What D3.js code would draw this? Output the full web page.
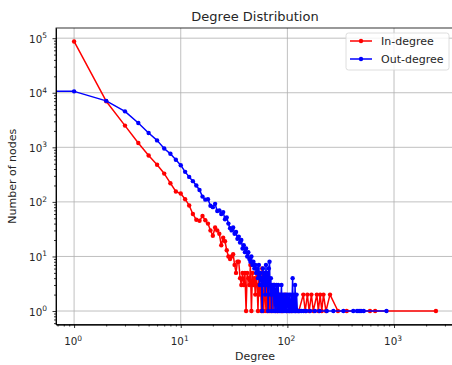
<!DOCTYPE html>
<html>
<head>
<meta charset="utf-8">
<script src="https://cdn.jsdelivr.net/npm/d3@7"></script>
<style>
  body { margin: 0; background: #fff; }
  svg { display: block; font-family: "DejaVu Sans", sans-serif; }
</style>
</head>
<body>
<div id="chart"></div>
<script>
// degree -> number of nodes with that degree
const inDegree = [1,2,3,4,5,6,7,8,9,10,11,12,13,14,15,16,17,18,19,20,
  21,22,23,24,25,26,27,28,29,30,31,32,33,34,35,36,37,38,39,40,
  41,42,43,44,45,46,47,48,49,50,51,52,53,54,55,56,57,58,59,60,
  61,62,63,64,65,66,67,68,69,70,72,73,75,77,78,80,82,85,88,90,
  95,98,104,110,120,128,141,147,154,160,168,175,189,195,203,210,218,230,251,298,
  360,595,665,2470];
const inCount = [87000,7000,2500,1200,710,480,330,220,155,142,112,86,60,47,45,55,46,40,30,24,
  34,30,26,16,22,19,13,10,9,10,11,7,5,8,8,4,3,5,3,5,
  1,5,4,3,7,1,5,3,4,2,5,3,1,4,2,3,1,6,2,1,
  3,2,1,4,1,2,3,1,2,1,2,1,3,1,2,1,1,2,1,1,
  2,1,1,1,1,1,2,1,2,1,2,1,2,1,2,1,2,1,2,1,
  1,1,1,1];

const outDegree = [0,1,2,3,4,5,6,7,8,9,10,11,12,13,14,15,16,17,18,19,20,
  21,22,23,24,25,26,27,28,29,30,31,32,33,34,35,36,37,38,39,40,
  41,42,43,44,45,46,47,48,49,50,51,52,53,54,55,56,57,58,59,60,
  61,62,63,64,65,66,67,68,69,70,71,72,73,74,75,76,77,78,79,80,
  81,82,84,85,86,88,89,90,92,93,95,97,98,100,102,104,105,107,108,110,
  112,113,115,117,118,120,122,124,127,130,135,142,150,163,181,200,234,270,335,415,
  450,470,490,520,850];
const outCount = [21000,10600,7100,4560,2790,1830,1340,950,760,590,470,355,287,240,200,165,125,110,112,85,80,
  92,68,70,60,65,48,52,40,33,30,34,26,28,21,23,18,20,14,16,12,
  14,10,12,9,8,10,7,8,6,7,5,6,4,7,3,5,4,1,6,3,
  5,2,7,3,5,1,6,8,2,4,1,3,2,3,1,3,2,1,3,2,
  1,3,1,2,1,3,1,2,1,2,1,2,1,2,1,2,1,1,2,1,
  4,1,2,1,3,1,2,1,1,1,1,1,1,1,1,1,1,1,1,1,
  1,1,1,1,1];

const seriesNames = ["In-degree", "Out-degree"];
const seriesColors = ["#ff0000", "#0000ff"];
const xMajorTicks = [1, 10, 100, 1000];
const yMajorTicks = [1, 10, 100, 1000, 10000, 100000];

const width = 452, height = 365;
const plot = {left: 56, right: 454, top: 28, bottom: 324.5};

const series = [
  inDegree.map((d, i) => ({deg: d, n: inCount[i]})),
  outDegree.map((d, i) => ({deg: d, n: outCount[i]}))
];

// autoscale like matplotlib: 5% padding in log space, nonpositive ignored
function logPad(values) {
  const pos = values.filter(v => v > 0);
  const lo = Math.log10(d3.min(pos)), hi = Math.log10(d3.max(pos));
  const pad = (hi - lo) * 0.05;
  return [Math.pow(10, lo - pad), Math.pow(10, hi + pad)];
}

const x = d3.scaleLog()
  .domain(logPad(inDegree.concat(outDegree)))
  .range([plot.left, plot.right]);
const y = d3.scaleLog()
  .domain(logPad(inCount.concat(outCount)))
  .range([plot.bottom, plot.top]);

// degree 0 can't sit on a log axis, clip it far to the left
const px = d => x(Math.max(d, 1e-300));

const svg = d3.select("#chart").append("svg")
  .attr("width", width)
  .attr("height", height);

svg.append("defs").append("clipPath").attr("id", "plotclip")
  .append("rect")
  .attr("x", plot.left).attr("y", plot.top)
  .attr("width", plot.right - plot.left)
  .attr("height", plot.bottom - plot.top);

// grid
const grid = svg.append("g").attr("stroke", "#b0b0b0").attr("stroke-width", 0.8);
grid.selectAll(".gx").data(xMajorTicks).enter().append("line")
  .attr("x1", d => x(d)).attr("x2", d => x(d))
  .attr("y1", plot.top).attr("y2", plot.bottom);
grid.selectAll(".gy").data(yMajorTicks).enter().append("line")
  .attr("x1", plot.left).attr("x2", plot.right)
  .attr("y1", d => y(d)).attr("y2", d => y(d));

// minor ticks from the scale domain
function minors(scale) {
  const [a, b] = scale.domain();
  const out = [];
  for (let e = Math.floor(Math.log10(a)); e <= Math.ceil(Math.log10(b)); e++) {
    for (let m = 2; m <= 9; m++) {
      const v = m * Math.pow(10, e);
      if (v >= a && v <= b) out.push(v);
    }
  }
  return out;
}

// lines and markers
const lines = svg.append("g").attr("clip-path", "url(#plotclip)");
const line = d3.line().x(d => px(d.deg)).y(d => y(d.n));

series.forEach((s, i) => {
  const g = lines.append("g");
  g.append("path")
    .datum(s)
    .attr("fill", "none")
    .attr("stroke", seriesColors[i])
    .attr("stroke-width", 1.5)
    .attr("stroke-linejoin", "round")
    .attr("d", line);
  g.selectAll("circle").data(s).enter().append("circle")
    .attr("cx", d => px(d.deg))
    .attr("cy", d => y(d.n))
    .attr("r", 2.2)
    .attr("fill", seriesColors[i]);
});

// axes
const xAxis = svg.append("g").attr("transform", `translate(0,${plot.bottom})`);
xAxis.call(d3.axisBottom(x).tickValues(xMajorTicks).tickFormat("").tickSize(3.5).tickSizeOuter(0));
xAxis.append("g").call(d3.axisBottom(x).tickValues(minors(x)).tickFormat("").tickSize(2).tickSizeOuter(0));

const yAxis = svg.append("g").attr("transform", `translate(${plot.left},0)`);
yAxis.call(d3.axisLeft(y).tickValues(yMajorTicks).tickFormat("").tickSize(3.5).tickSizeOuter(0));
yAxis.append("g").call(d3.axisLeft(y).tickValues(minors(y)).tickFormat("").tickSize(2).tickSizeOuter(0));

svg.selectAll(".domain").attr("stroke", "#000").attr("stroke-width", 0.8);
svg.selectAll(".tick line").attr("stroke", "#000").attr("stroke-width", 0.8);

// frame (top and right spines)
svg.append("rect")
  .attr("x", plot.left).attr("y", plot.top)
  .attr("width", plot.right - plot.left)
  .attr("height", plot.bottom - plot.top)
  .attr("fill", "none")
  .attr("stroke", "#000")
  .attr("stroke-width", 0.8);

// tick labels as 10^n
function powLabel(sel) {
  sel.append("tspan").text("10");
  sel.append("tspan")
    .attr("dy", -4.5)
    .attr("font-size", 7.5)
    .text(d => Math.round(Math.log10(d)));
}

svg.append("g").selectAll("text").data(xMajorTicks).enter().append("text")
  .attr("x", d => x(d) - 1)
  .attr("y", plot.bottom + 20.5)
  .attr("text-anchor", "middle")
  .attr("font-size", 10.3)
  .attr("fill", "#262626")
  .call(powLabel);

svg.append("g").selectAll("text").data(yMajorTicks).enter().append("text")
  .attr("x", plot.left - 9)
  .attr("y", d => y(d) + 4.5)
  .attr("text-anchor", "end")
  .attr("font-size", 10.3)
  .attr("fill", "#262626")
  .call(powLabel);

// titles
svg.append("text")
  .attr("x", (plot.left + plot.right) / 2)
  .attr("y", 20.5)
  .attr("text-anchor", "middle")
  .attr("font-size", 13)
  .attr("fill", "#262626")
  .text("Degree Distribution");

svg.append("text")
  .attr("x", (plot.left + plot.right) / 2)
  .attr("y", 359.5)
  .attr("text-anchor", "middle")
  .attr("font-size", 11)
  .attr("fill", "#262626")
  .text("Degree");

svg.append("text")
  .attr("transform", `translate(16,${(plot.top + plot.bottom) / 2}) rotate(-90)`)
  .attr("text-anchor", "middle")
  .attr("font-size", 11)
  .attr("fill", "#262626")
  .text("Number of nodes");

// legend
const legend = svg.append("g").attr("transform", "translate(346,33)");
legend.append("rect")
  .attr("width", 103).attr("height", 37)
  .attr("rx", 2.5)
  .attr("fill", "#fff").attr("fill-opacity", 0.8)
  .attr("stroke", "#d6d6d6").attr("stroke-width", 0.8);

const items = legend.selectAll(".item").data(seriesNames).enter().append("g")
  .attr("transform", (d, i) => `translate(0,${8 + i * 18})`);
items.append("line")
  .attr("x1", 4).attr("x2", 26).attr("y1", 0).attr("y2", 0)
  .attr("stroke", (d, i) => seriesColors[i]).attr("stroke-width", 1.5);
items.append("circle")
  .attr("cx", 15).attr("cy", 0).attr("r", 2.2)
  .attr("fill", (d, i) => seriesColors[i]);
items.append("text")
  .attr("x", 35).attr("y", 4)
  .attr("font-size", 11)
  .attr("fill", "#262626")
  .text(d => d);
</script>
</body>
</html>
